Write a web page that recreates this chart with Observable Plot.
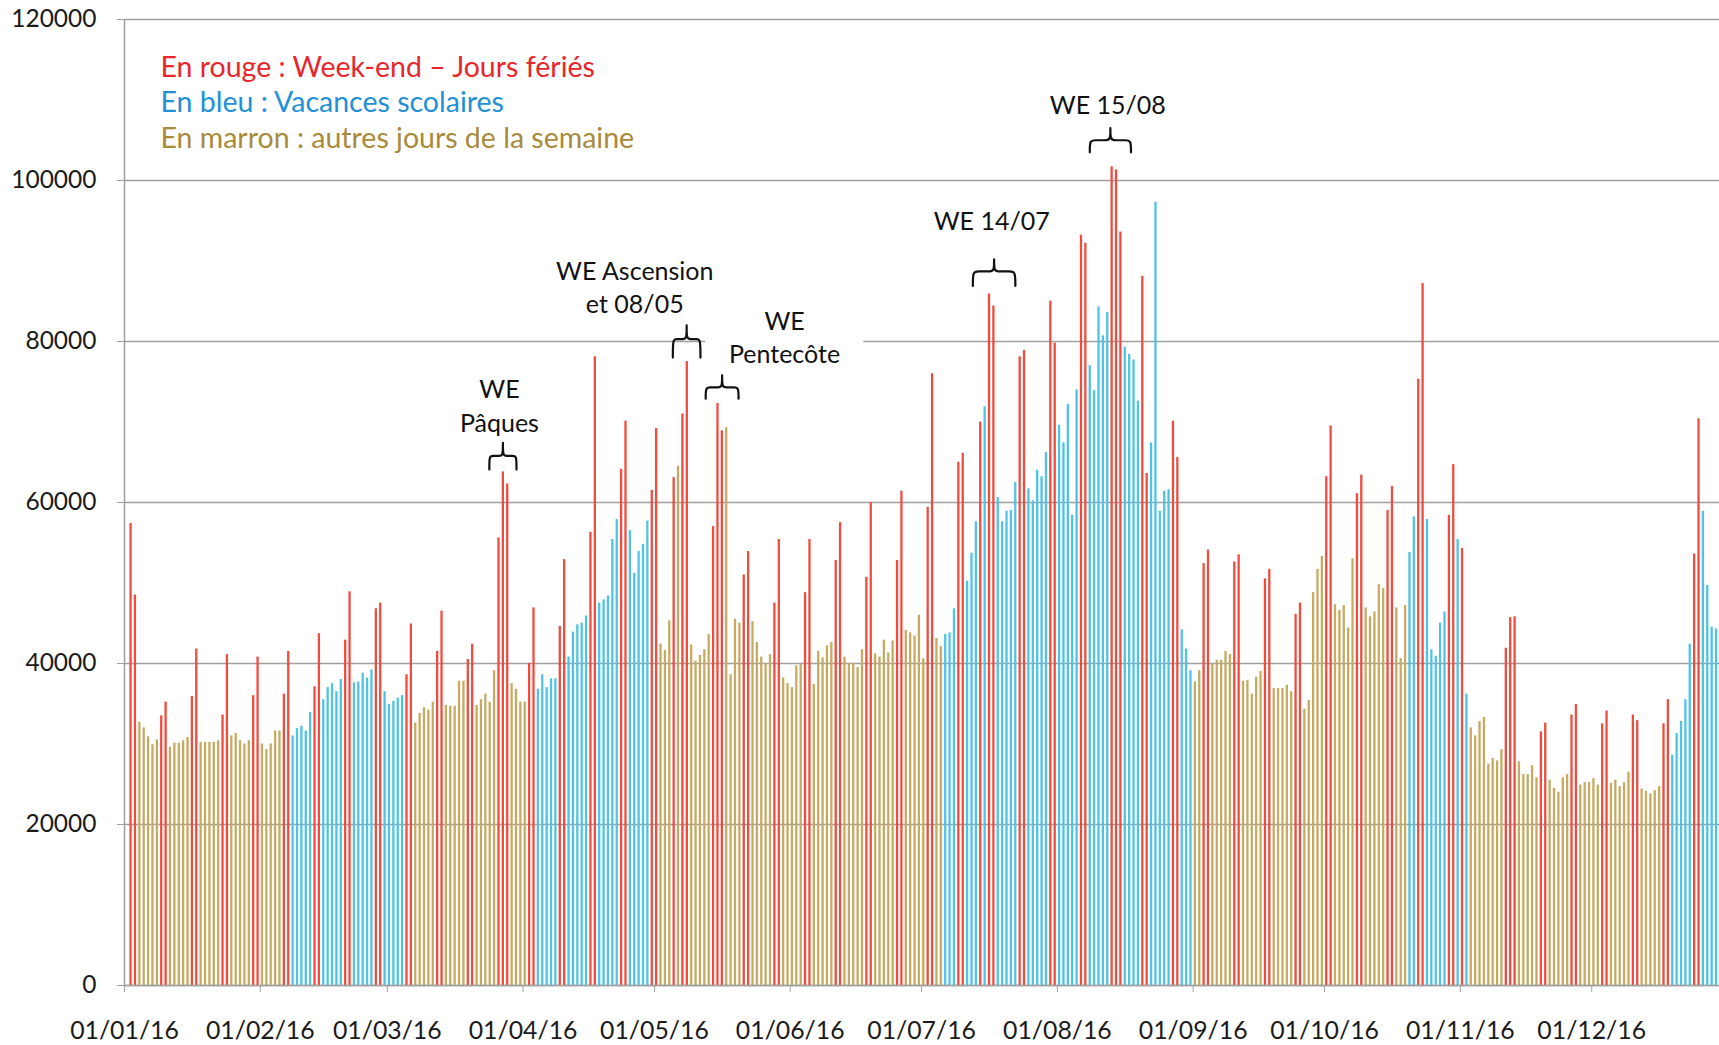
<!DOCTYPE html>
<html><head><meta charset="utf-8">
<script src="https://cdn.jsdelivr.net/npm/d3@7"></script>
<script src="https://cdn.jsdelivr.net/npm/@observablehq/plot@0.6"></script>
<style>
html,body{margin:0;padding:0;background:#fff;overflow:hidden;}
#chart{width:1719px;height:1045px;overflow:hidden;}
#chart svg{max-width:none !important;height:1045px !important;}
</style></head><body><div id="chart"></div>
<script>
// Daily values 2016 (null = no bar visible)
const jan = [null,57400,48500,32700,32000,30900,29900,30500,33500,35200,29600,30100,30100,30400,30800,35900,41800,30200,30200,30200,30200,30400,33600,41100,31000,31300,30400,30000,30400,36000,40800];
const feb = [30000,29300,30000,31600,31600,36200,41500,31000,31900,32200,31600,33900,37100,43700,35500,37000,37500,36500,38000,42900,48900,37600,37700,38800,38200,39200,46800,47500,36500];
const mar = [34900,35300,35700,36000,38600,44900,32600,33800,34500,34200,35200,41500,46500,34800,34700,34700,37800,37800,40500,42400,34800,35500,36200,35200,39100,55600,63800,62300,37500,36800,35200];
const apr = [35200,40000,46900,36800,38600,37000,38100,38100,44600,52900,40800,43900,44800,45000,45900,56300,78100,47500,47900,48400,55400,57900,64100,70100,56500,51200,53900,54800,57700,61500];
const may = [69200,42400,41600,45300,63100,64500,71000,77500,42300,40300,41000,41700,43600,57000,72300,68900,69300,38600,45500,45000,51000,53900,45200,42600,40800,40000,41100,47500,55400,38200,37500];
const jun = [37000,39700,39900,48800,55400,37400,41500,40700,42200,42600,52800,57500,40800,40000,40000,39500,41700,50700,60000,41200,40800,42900,41300,42800,52800,61400,44100,43800,43400,46000];
const jul = [40600,59400,76000,43100,42100,43600,43800,46800,65000,66100,50200,53700,57600,70000,71900,85900,84400,60600,57600,58900,59000,62500,78100,78900,61700,60200,64000,63200,66200,85000,79800];
const aug = [69600,67400,72200,58400,74000,93200,92200,77000,73900,84300,80700,83600,101700,101300,93600,79300,78400,77700,72600,88100,63600,67400,97300,58900,61400,61600,70100,65600,44200,41800,39100];
const sep = [37700,39100,52400,54100,39900,40400,40400,41500,41100,52600,53500,37800,37900,36200,38300,39000,50500,51700,36900,36900,36900,37300,36500,46100,47500,34300,35400,48800,51700,53300];
const oct = [63200,69500,47300,46600,47200,44400,53000,61100,63400,46900,45800,46400,49800,49300,59000,62000,46900,40600,47200,53800,58200,75300,87200,57900,41700,40900,45000,46400,58400,64700,55400];
const nov = [54300,36200,32000,31000,32800,33300,27500,28200,27900,29300,41900,45700,45800,27800,26200,26200,27300,25800,31500,32600,25500,24500,24000,25800,26200,33600,34900,24900,25200,25200];
const dec = [25700,24900,32500,34100,25100,25500,24700,25200,26500,33600,32900,24400,24100,23800,24200,24700,32500,35500,28600,31300,32800,35500,42400,53600,70400,58900,49700,44500,44300,null,null];

// Day type per month: R = week-end / jour férié, B = vacances scolaires, M = autres jours
const janType = "-RRMMMMMRRMMMMMRRMMMMMRRMMMMMRR";
const febType = "MMMMMRRBBBBBRRBBBBBRRBBBBBRRB";
const marType = "BBBBRRMMMMMRRMMMMMRRMMMMMRRRMMM";
const aprType = "MRRBBBBBRRBBBBBRRBBBBBRRBBBBBR";
const mayType = "RMMMRMRRMMMMMRRRMMMMRRMMMMMRRMM";
const junType = "MMMRRMMMMMRRMMMMMRRMMMMMRRMMMM";
const julType = "MRRMMBBBRRBBBRBRRBBBBBRRBBBBBRR";
const augType = "BBBBBRRBBBBBRRRBBBBRRBBBBBRRBBB";
const sepType = "MMRRMMMMMRRMMMMMRRMMMMMRRMMMMM";
const octType = "RRMMMMMRRMMMMMRRMMMBBRRBBBBBRRB";
const novType = "RBMMMMMMMMRRRMMMMMRRMMMMMRRMMM";
const decType = "MMRRMMMMMRRMMMMMRRBBBBBRRBBBB--";

const yTicks = [0,20000,40000,60000,80000,100000,120000];
const xTickLabels = ["01/01/16","01/02/16","01/03/16","01/04/16","01/05/16","01/06/16","01/07/16","01/08/16","01/09/16","01/10/16","01/11/16","01/12/16"];

const legendLines = [
  {text:"En rouge : Week-end – Jours fériés", type:"R"},
  {text:"En bleu : Vacances scolaires", type:"B"},
  {text:"En marron : autres jours de la semaine", type:"M"}
];

// annotations: day offset from 01/01/16 (fractional) and value position
const notes = [
  {label:"WE 15/08", day:224.5, value:109300},
  {label:"WE 14/07", day:198.0, value:94900},
  {label:"WE Ascension", day:116.5, value:88600},
  {label:"et 08/05", day:116.5, value:84500},
  {label:"WE", day:150.7, value:82400},
  {label:"Pentecôte", day:150.7, value:78300},
  {label:"WE", day:85.6, value:74000},
  {label:"Pâques", day:85.6, value:69800}
];
const braces = [
  {d0:220.4, d1:229.8, tip:106500, mid:105000, bottom:103500},
  {d0:193.7, d1:203.4, tip:90200, mid:88700, bottom:86900},
  {d0:125.2, d1:131.5, tip:82000, mid:80300, bottom:78000},
  {d0:132.7, d1:140.2, tip:75800, mid:74300, bottom:72900},
  {d0:83.3, d1:89.5, tip:67400, mid:65800, bottom:64100}
];
const maskBox = {d0:132.7, d1:168.8, v0:75800, v1:85000};

const barColors = {R:"#f04b3d", B:"#4ec3e6", M:"#c6aa62"};
const textColors = {R:"#e8262b", B:"#2290d6", M:"#a88a3a"};

const DAY = 864e5;
const start = Date.UTC(2016,0,1);
const dayDate = d => new Date(start + d*DAY);

const months = [jan,feb,mar,apr,may,jun,jul,aug,sep,oct,nov,dec];
const types = [janType,febType,marType,aprType,mayType,junType,julType,augType,sepType,octType,novType,decType];
const rows = [];
months.forEach((vals, m) => vals.forEach((v, i) => {
  if (v == null) return;
  rows.push({x1: new Date(Date.UTC(2016, m, i+1)), x2: new Date(Date.UTC(2016, m, i+2)), value: v, type: types[m][i]});
}));
const monthTicks = xTickLabels.map(s => { const [dd,mm,yy] = s.split("/"); return new Date(Date.UTC(2000+ +yy, +mm-1, +dd)); });
const labelOf = new Map(monthTicks.map((d,i)=>[+d, xTickLabels[i]]));

const braceLines = [];
braces.forEach((b, k) => {
  const dc = (b.d0 + b.d1)/2, e = (b.d1 - b.d0)*0.12;
  [[b.d0,b.bottom],[b.d0,b.bottom],[b.d0,b.mid],[b.d0+e,b.mid],[dc-e,b.mid],[dc,b.mid],[dc,b.tip],[dc,b.tip],[dc,b.tip],[dc,b.mid],[dc+e,b.mid],[b.d1-e,b.mid],[b.d1,b.mid],[b.d1,b.bottom],[b.d1,b.bottom]]
    .forEach(([d,v]) => braceLines.push({k, x: dayDate(d), y: v}));
});

const legendMarks = legendLines.map((l, i) => Plot.text([l], {
  frameAnchor: "top-left", dx: 36, dy: 37 + i*35.6, text: "text",
  fill: textColors[l.type], textAnchor: "start", fontSize: 28.5
}));

const chart = Plot.plot({
  width: 1727, height: 1045,
  marginLeft: 124, marginRight: 0, marginTop: 19, marginBottom: 60,
  style: {fontFamily: "Lato, 'Open Sans', sans-serif", background: "#fff", color: "#1a1a1a"},
  x: {type: "utc", domain: [new Date(start), new Date(Date.UTC(2017,0,1))]},
  y: {domain: [0, 120000]},
  marks: [
    Plot.gridY(yTicks, {stroke: "#a0a0a0", strokeOpacity: 1, strokeWidth: 1.5}),
    Plot.rect([maskBox], {x1: d => dayDate(d.d0), x2: d => dayDate(d.d1), y1: "v0", y2: "v1", fill: "#fff"}),
    Plot.rectY(rows, {x1: "x1", x2: "x2", y1: 0, y2: "value", fill: d => barColors[d.type], insetLeft: 1.05, insetRight: 1.05}),
    Plot.ruleY([0], {stroke: "#a0a0a0", strokeWidth: 1.5}),
    Plot.ruleX([new Date(start)], {stroke: "#a0a0a0", strokeWidth: 1.5}),
    Plot.axisY({ticks: yTicks, tickFormat: d => String(d), tickSize: 7, tickPadding: 21, fontSize: 24.5, stroke: "#a0a0a0", fill: "#1a1a1a"}),
    Plot.axisX({ticks: monthTicks, tickFormat: d => labelOf.get(+d), tickSize: 7, tickPadding: 29, fontSize: 24.8, stroke: "#a0a0a0", fill: "#1a1a1a"}),
    ...legendMarks,
    Plot.text(notes, {x: d => dayDate(d.day), y: "value", text: "label", fontSize: 25, fill: "#111"}),
    Plot.line(braceLines, {x: "x", y: "y", z: "k", stroke: "#111", strokeWidth: 2.2, curve: "basis"})
  ]
});
document.getElementById("chart").appendChild(chart);
</script></body></html>
